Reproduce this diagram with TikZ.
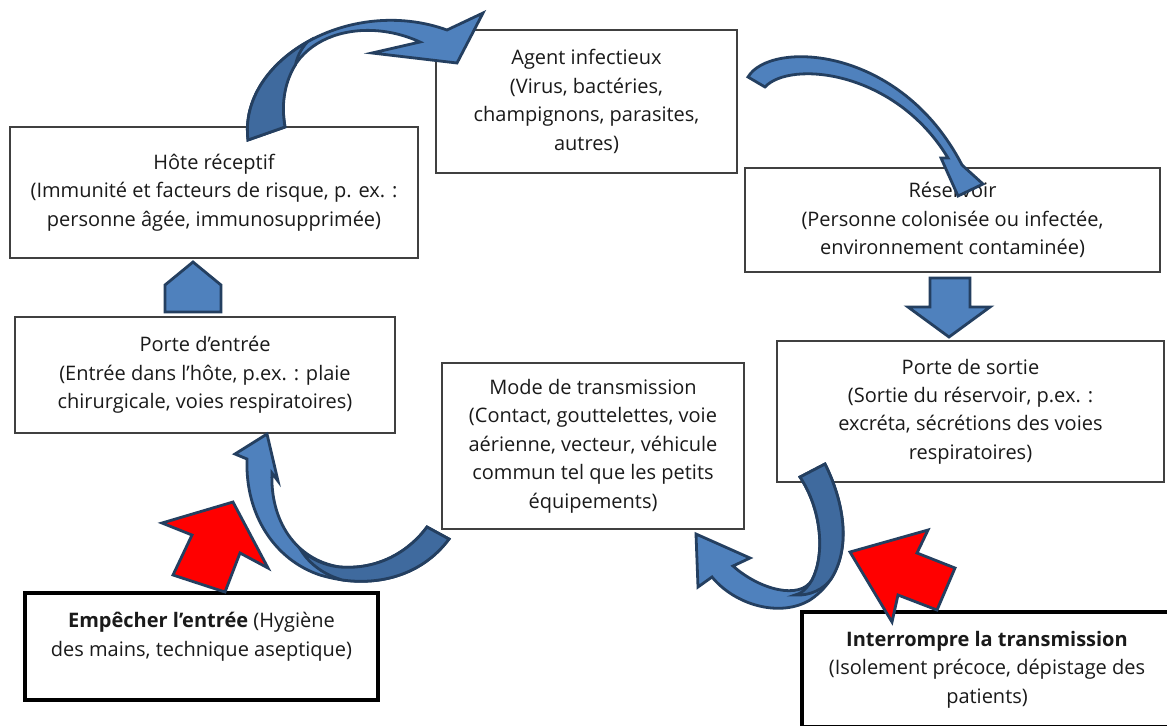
\documentclass[tikz,border=0pt]{standalone}
\usepackage{fontspec}
\setmainfont{Open Sans}
\definecolor{boxline}{HTML}{404040}
\definecolor{arrowfill}{HTML}{4F81BD}
\definecolor{arrowback}{HTML}{3F6A9E}
\definecolor{arrowline}{HTML}{243F60}
\definecolor{stopred}{HTML}{FF0000}
\definecolor{txt}{HTML}{1A1A1A}
\begin{document}
\begin{tikzpicture}[x=0.5pt, y=-0.5pt,
    infobox/.style={draw=boxline, fill=white, line width=0.8pt, align=center, inner sep=0pt, text=txt, font=\fontsize{10}{14.2}\selectfont},
    actionbox/.style={infobox, draw=black, line width=1.6pt},
    blk/.style={fill=arrowfill, draw=arrowline, line width=1.4pt, line join=miter},
    blkback/.style={blk, fill=arrowback},
    redblk/.style={blk, fill=stopred}]
    \useasboundingbox (0,0) rectangle (1167,725);
    \clip (0,0) rectangle (1167,725);
    \fill[white] (0,0) rectangle (1167,725);
    \node [infobox, minimum width=150.5pt, minimum height=71.5pt] (agent) at (586.5,101.5) {Agent infectieux\\(Virus, bactéries,\\champignons, parasites,\\autres)};
    \node [infobox, minimum width=207.5pt, minimum height=52pt] (reservoir) at (952.5,220) {Réservoir\\(Personne colonisée ou infectée,\\environnement contaminée)};
    \node [infobox, minimum width=193.5pt, minimum height=70.5pt] (sortie) at (970.5,411.5) {Porte de sortie\\(Sortie du réservoir, p.ex. :\\excréta, sécrétions des voies\\respiratoires)};
    \node [infobox, minimum width=151pt, minimum height=83pt] (mode) at (593,446) {Mode de transmission\\(Contact, gouttelettes, voie\\aérienne, vecteur, véhicule\\commun tel que les petits\\équipements)};
    \node [infobox, minimum width=190pt, minimum height=58pt] (entree) at (205,375) {Porte d’entrée\\(Entrée dans l’hôte, p.ex. : plaie\\chirurgicale, voies respiratoires)};
    \node [infobox, minimum width=204pt, minimum height=65.5pt] (hote) at (214,192.5) {Hôte réceptif\\(Immunité et facteurs de risque, p. ex. :\\personne âgée, immunosupprimée)};
    \node [actionbox, minimum width=176.5pt, minimum height=53.5pt] (empecher) at (201.5,646.5) {\textbf{Empêcher l’entrée} (Hygiène\\des mains, technique aseptique)\\[-2pt]\mbox{}};
    \node [actionbox, minimum width=185pt, minimum height=57.5pt] (interrompre) at (987,669.5) {\textbf{Interrompre la transmission}\\(Isolement précoce, dépistage des\\patients)};
    \filldraw [blk] (248,140) .. controls (238,60) and (350,-5) .. (447,30) -- (483,13) -- (457,63) -- (372,53) -- (420,42) .. controls (355,12) and (270,40) .. (285,127) -- cycle;
    \filldraw [blkback] (248,140) .. controls (243,100) and (268.5,63.75) .. (307.4,41.9) .. controls (300,50) and (297,58) .. (295.5,64.6) .. controls (286,80.1) and (280.5,100.9) .. (285,127) -- cycle;
    \filldraw [blk] (748,77) .. controls (770,40) and (900,45) .. (962,165) -- (983,184) -- (958,196) -- (941,158) -- (948,158) .. controls (895,70) and (790,60) .. (765,87) -- cycle;
    \filldraw [blk] (930,278) -- (970,278) -- (970,307) -- (990,307) -- (949,337) -- (908,307) -- (930,307) -- cycle;
    \filldraw [blk] (825,464) .. controls (848,510) and (855,570) .. (810,600) .. controls (780,618) and (735,605) .. (712,577) -- (698,587) -- (696,534) -- (750,558) -- (733,566) .. controls (760,590) and (800,600) .. (812,580) .. controls (825,555) and (822,510) .. (800,477) -- cycle;
    \filldraw [blkback] (800,477) .. controls (822,510) and (825,555) .. (812,580) .. controls (806,590) and (800,594) .. (795,595) .. controls (810,596) and (824,589) .. (831.2,578.8) .. controls (851.6,546.6) and (843.4,500.8) .. (825,464) -- cycle;
    \filldraw [blk] (449,539) .. controls (420,578) and (370,590) .. (320,575) .. controls (275,560) and (245,515) .. (247,459) -- (235,454) -- (267,434) -- (278,481) -- (272,473) .. controls (270,520) and (295,560) .. (340,567) .. controls (380,570) and (410,550) .. (427,527) -- cycle;
    \filldraw [blkback] (427,527) -- (449,539) .. controls (424.35,572.15) and (384.5,585.8) .. (342.4,580) .. controls (325,575) and (310,565) .. (300.4,549.5) .. controls (310.95,558.9) and (324.25,565.55) .. (340,567) .. controls (380,570) and (410,550) .. (427,527) -- cycle;
    \filldraw [blk] (165,312) -- (165,285) -- (193,262) -- (221,285) -- (221,312) -- cycle;
    \filldraw [redblk] (233,502) -- (268,568) -- (240,553) -- (225,592) -- (173,575) -- (192,535) -- (162,523) -- cycle;
    \filldraw [redblk] (850,552) -- (928,530) -- (917,553) -- (955,568) -- (937,610) -- (898,595) -- (892,622) -- cycle;
\end{tikzpicture}
\end{document}
